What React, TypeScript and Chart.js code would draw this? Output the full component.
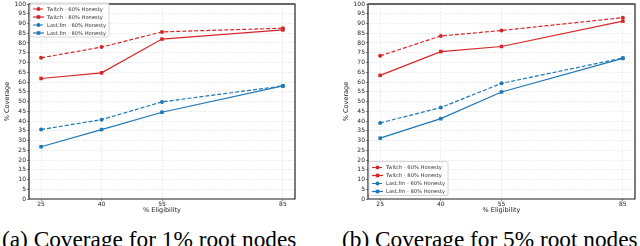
import React, { useEffect, useRef } from "react";
import { Chart, registerables } from "chart.js";

Chart.register(...registerables);

// ---------- data ----------
const eligibility = [25, 40, 55, 85];
const xTickLabels = ["25", "40", "55", "85"];
const seriesNames = [
  "Twitch - 60% Honesty",
  "Twitch - 80% Honesty",
  "Last.fm - 60% Honesty",
  "Last.fm - 80% Honesty",
];

// (a) 1% root nodes
const twitch60Root1 = [72.4, 77.9, 85.7, 87.6];
const twitch80Root1 = [61.8, 64.7, 82.0, 86.7];
const lastfm60Root1 = [35.6, 40.7, 49.8, 58.0];
const lastfm80Root1 = [26.8, 35.6, 44.5, 58.0];

// (b) 5% root nodes
const twitch60Root5 = [73.4, 83.6, 86.4, 93.0];
const twitch80Root5 = [63.4, 75.6, 78.2, 91.2];
const lastfm60Root5 = [39.0, 46.9, 59.3, 72.3];
const lastfm80Root5 = [31.2, 41.2, 54.9, 72.1];

const captionA = "(a) Coverage for 1% root nodes";
const captionB = "(b) Coverage for 5% root nodes";
const yTitle = "% Coverage";
const xTitle = "% Eligibility";

// ---------- styles ----------
const RED = "#d62728";
const BLUE = "#1f77b4";
const FONT = "DejaVu Sans";

type Corner = "upper left" | "lower left";

function makeLegendPlugin(corner: Corner) {
  return {
    id: "customLegend",
    afterDraw(chart: any) {
      const { ctx, chartArea } = chart;
      const boxW = 79;
      const boxH = 34;
      const rowH = 8;
      const x0 = chartArea.left + 1;
      const y0 = corner === "upper left" ? chartArea.top - 1 : chartArea.bottom - 37.5;
      ctx.save();
      ctx.beginPath();
      if ((ctx as any).roundRect) (ctx as any).roundRect(x0, y0, boxW, boxH, 2);
      else ctx.rect(x0, y0, boxW, boxH);
      ctx.fillStyle = "rgba(255,255,255,0.85)";
      ctx.fill();
      ctx.strokeStyle = "#cccccc";
      ctx.lineWidth = 0.8;
      ctx.stroke();
      chart.data.datasets.forEach((ds: any, i: number) => {
        const cy = y0 + 6 + i * rowH;
        ctx.beginPath();
        ctx.setLineDash(ds.borderDash || []);
        ctx.strokeStyle = ds.borderColor;
        ctx.lineWidth = ds.borderWidth;
        ctx.moveTo(x0 + 3, cy);
        ctx.lineTo(x0 + 14, cy);
        ctx.stroke();
        ctx.setLineDash([]);
        ctx.fillStyle = ds.borderColor;
        ctx.beginPath();
        if (ds.pointStyle === "rect") {
          ctx.rect(x0 + 8.5 - 1.8, cy - 1.8, 3.6, 3.6);
        } else {
          ctx.arc(x0 + 8.5, cy, 2, 0, Math.PI * 2);
        }
        ctx.fill();
        ctx.fillStyle = "#333333";
        ctx.font = `5.2px "${FONT}"`;
        ctx.textBaseline = "middle";
        ctx.textAlign = "left";
        ctx.fillText(ds.label, x0 + 17, cy + 0.3);
      });
      ctx.restore();
    },
  };
}

const framePlugin = {
  id: "frame",
  afterDatasetsDraw(chart: any) {
    const { ctx, chartArea: a } = chart;
    ctx.save();
    ctx.setLineDash([]);
    ctx.strokeStyle = "#222222";
    ctx.lineWidth = 1.2;
    ctx.beginPath();
    ctx.moveTo(a.left, a.top);
    ctx.lineTo(a.left, a.bottom);
    ctx.lineTo(a.right, a.bottom);
    ctx.lineTo(a.right, a.top);
    ctx.stroke();
    ctx.strokeStyle = "#666666";
    ctx.lineWidth = 2;
    ctx.beginPath();
    ctx.moveTo(a.left - 0.5, a.top);
    ctx.lineTo(a.right + 0.5, a.top);
    ctx.stroke();
    ctx.restore();
  },
};

function makeDataset(label: string, values: number[], color: string, dashed: boolean) {
  return {
    label,
    data: eligibility.map((x, i) => ({ x, y: values[i] })),
    borderColor: color,
    backgroundColor: color,
    borderWidth: 1.2,
    borderDash: dashed ? [4, 2] : [],
    pointStyle: dashed ? "circle" : "rect",
    pointRadius: dashed ? 2 : 2.5,
    pointBorderWidth: 0,
    pointBackgroundColor: color,
    tension: 0,
  };
}

interface PanelProps {
  left: number;
  width: number;
  t60: number[];
  t80: number[];
  l60: number[];
  l80: number[];
  corner: Corner;
}

function Panel({ left, width, t60, t80, l60, l80, corner }: PanelProps) {
  const ref = useRef<HTMLCanvasElement | null>(null);
  useEffect(() => {
    if (!ref.current) return;
    const chart = new Chart(ref.current, {
      type: "line",
      data: {
        datasets: [
          makeDataset(seriesNames[0], t60, RED, true),
          makeDataset(seriesNames[1], t80, RED, false),
          makeDataset(seriesNames[2], l60, BLUE, true),
          makeDataset(seriesNames[3], l80, BLUE, false),
        ] as any,
      },
      options: {
        animation: false,
        responsive: false,
        devicePixelRatio: 1,
        layout: { padding: { left: 0, right: 5, top: 3, bottom: 0 } },
        plugins: { legend: { display: false }, tooltip: { enabled: false } },
        scales: {
          x: {
            type: "linear",
            min: 22,
            max: 88,
            afterBuildTicks: (scale: any) => {
              scale.ticks = eligibility.map((v) => ({ value: v }));
            },
            afterFit: (scale: any) => {
              scale.height = 16;
              scale.paddingLeft = 0;
              scale.paddingRight = 0;
            },
            ticks: {
              autoSkip: false,
              maxRotation: 0,
              padding: 0,
              color: "#222",
              font: { family: FONT, size: 6 },
              callback: (v: any) => xTickLabels[eligibility.indexOf(Number(v))] ?? "",
            },
            grid: { color: "#dddddd", lineWidth: 0.6, tickLength: 2, tickColor: "#444", drawOnChartArea: true },
            border: { display: false, dash: [2, 1.5] },
            title: {
              display: true,
              text: xTitle,
              color: "#222",
              font: { family: FONT, size: 6.5 },
              padding: { top: 0, bottom: 1 },
            },
          },
          y: {
            type: "linear",
            min: 0,
            max: 100,
            afterFit: (scale: any) => {
              scale.width = 29;
              scale.paddingTop = 0;
              scale.paddingBottom = 0;
            },
            ticks: {
              stepSize: 5,
              autoSkip: false,
              padding: 1,
              color: "#222",
              font: { family: FONT, size: 6 },
            },
            grid: { color: "#dddddd", lineWidth: 0.6, tickLength: 2, tickColor: "#444" },
            border: { display: false, dash: [2, 1.5] },
            title: {
              display: true,
              text: yTitle,
              color: "#222",
              font: { family: FONT, size: 6.5 },
              padding: { top: 3.5, bottom: 0 },
            },
          },
        },
      } as any,
      plugins: [framePlugin, makeLegendPlugin(corner)],
    });
    return () => chart.destroy();
  }, []);
  return (
    <canvas
      ref={ref}
      width={width}
      height={215}
      style={{ position: "absolute", left, top: 0, width, height: 215 }}
    />
  );
}

const captionStyle: React.CSSProperties = {
  position: "absolute",
  top: 227.5,
  fontFamily: '"Liberation Serif", serif',
  fontSize: 23.3,
  lineHeight: 1,
  whiteSpace: "nowrap",
  color: "#000",
};

export default function App() {
  return (
    <div
      style={{
        position: "fixed",
        left: 0,
        top: 0,
        width: 640,
        height: 246,
        overflow: "hidden",
        background: "#fff",
      }}
    >
      <Panel left={0} width={300} t60={twitch60Root1} t80={twitch80Root1} l60={lastfm60Root1} l80={lastfm80Root1} corner="upper left" />
      <Panel left={339} width={301} t60={twitch60Root5} t80={twitch80Root5} l60={lastfm60Root5} l80={lastfm80Root5} corner="lower left" />
      <div style={{ ...captionStyle, left: 2 }}>{captionA}</div>
      <div style={{ ...captionStyle, left: 342 }}>{captionB}</div>
    </div>
  );
}
